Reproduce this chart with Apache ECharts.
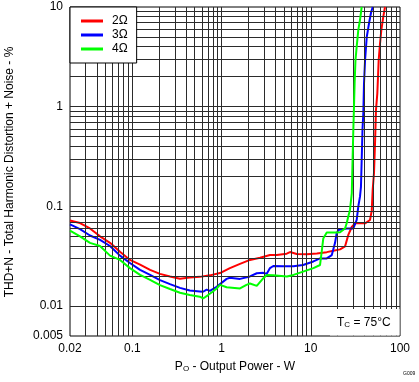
<!DOCTYPE html>
<html><head><meta charset="utf-8">
<script src="https://cdn.jsdelivr.net/npm/echarts@6/dist/echarts.min.js"></script>
<style>html,body{margin:0;padding:0;background:#fff}#c{width:419px;height:382px}</style>
</head><body><div id="c"></div>
<script>
// ---- data ----
const seriesNames = ['2Ω', '3Ω', '4Ω'];
const p2 = [0.02,0.0227,0.0259,0.0335,0.0434,0.0562,0.0727,0.094,0.122,0.158,0.204,0.264,0.342,0.44,0.57,0.74,0.96,1.24,1.61,2.08,2.7,3.49,4.15,5.37,5.85,6.95,9.0,11.7,15.1,17.9,21.3,24.2,26.4,28.8,31.3,40.6,46.1,48.2,49.4,51.1,52.5,53.8,55.7,57.7,59.7,61.8,65.0,67.9];
const thd2 = [0.072,0.070,0.068,0.060,0.050,0.043,0.035,0.029,0.026,0.023,0.021,0.0198,0.0188,0.0193,0.0196,0.0203,0.0214,0.024,0.0265,0.029,0.0305,0.0325,0.0324,0.0335,0.0348,0.0332,0.033,0.0337,0.0347,0.0358,0.037,0.0396,0.052,0.062,0.0675,0.0675,0.073,0.09,0.146,0.215,0.43,0.93,1.36,2.94,4.3,5.9,8.0,10];
const p3 = [0.02,0.0259,0.0335,0.0434,0.0562,0.0727,0.094,0.122,0.158,0.204,0.264,0.342,0.44,0.57,0.62,0.68,0.74,0.88,1.14,1.24,1.61,2.08,2.48,2.94,3.21,3.49,3.8,4.9,6.4,8.2,10.7,12.7,15.1,17.2,18.7,19.5,20.4,25.3,30.0,32.7,34.1,35.6,36.5,37.2,38.0,38.8,39.5,40.6,42.4,45.0,47.5,49.5];
const thd3 = [0.066,0.059,0.051,0.046,0.040,0.032,0.027,0.023,0.0205,0.0182,0.0166,0.0152,0.0143,0.0140,0.0139,0.0146,0.0142,0.0156,0.0187,0.0192,0.0187,0.0198,0.0213,0.0215,0.0211,0.024,0.0252,0.025,0.025,0.0258,0.028,0.030,0.030,0.0324,0.043,0.0537,0.058,0.060,0.060,0.073,0.10,0.125,0.157,0.29,0.6,0.85,1.72,2.94,5.0,6.9,8.9,10];
const p4 = [0.02,0.0259,0.0335,0.0434,0.0562,0.0727,0.094,0.122,0.158,0.204,0.264,0.342,0.44,0.57,0.62,0.70,0.80,0.88,0.96,1.14,1.61,1.9,2.08,2.48,2.94,3.21,3.8,5.4,6.4,8.2,10.7,12.7,13.3,13.8,15.1,19.5,21.3,24.2,25.3,26.4,27.5,28.8,29.4,30.0,30.5,31.0,31.7,32.7,34.1,35.6,37.2];
const thd4 = [0.057,0.050,0.043,0.040,0.032,0.029,0.024,0.0205,0.0183,0.0162,0.0148,0.0136,0.0129,0.0124,0.0119,0.0128,0.0140,0.0150,0.0163,0.0154,0.0150,0.0163,0.0168,0.0159,0.0190,0.0205,0.0203,0.0198,0.0205,0.0221,0.024,0.0258,0.036,0.0475,0.0545,0.0545,0.055,0.060,0.068,0.080,0.092,0.135,0.29,0.60,1.0,1.72,2.94,4.0,5.9,7.4,10];
const xTicks = [0.02, 0.1, 1, 10, 100];
const xTickLabels = ['0.02', '0.1', '1', '10', '100'];
const yTicks = [0.005, 0.01, 0.1, 1, 10];
const yTickLabels = ['0.005', '0.01', '0.1', '1', '10'];
const xGrid = [0.03,0.04,0.05,0.06,0.07,0.08,0.09,0.1,0.2,0.3,0.4,0.5,0.6,0.7,0.8,0.9,1,2,3,4,5,6,7,8,9,10,20,30,40,50,60,70,80,90];
const yGrid = [0.006,0.007,0.008,0.009,0.01,0.02,0.03,0.04,0.05,0.06,0.07,0.08,0.09,0.1,0.2,0.3,0.4,0.5,0.6,0.7,0.8,0.9,1,2,3,4,5,6,7,8,9];

const colors = ['#ff0000', '#0000ff', '#00ff00'];
const FONT = "'Liberation Sans', Arial, sans-serif";

function zip(a, b) { return a.map((v, i) => [v, b[i]]); }
function fmt(ticks, labels) {
  return function (v) {
    for (let i = 0; i < ticks.length; i++) {
      if (Math.abs(Math.log10(v) - Math.log10(ticks[i])) < 0.01) return labels[i];
    }
    return '';
  };
}

const chart = echarts.init(document.getElementById('c'), null, { renderer: 'canvas' });
const gridLines = xGrid.map(v => ({ xAxis: v })).concat(yGrid.map(v => ({ yAxis: v })));

chart.setOption({
  animation: false,
  backgroundColor: '#fff',
  textStyle: { fontFamily: FONT },
  grid: { left: 70, right: 19, top: 7, bottom: 46, show: true, borderColor: '#000', borderWidth: 1, backgroundColor: 'transparent' },
  xAxis: {
    type: 'log', min: 0.02, max: 100, logBase: 10,
    axisLine: { show: false }, axisTick: { show: false }, splitLine: { show: false },
    axisLabel: { color: '#000', fontSize: 12, fontFamily: FONT, margin: 7, formatter: fmt(xTicks, xTickLabels), showMinLabel: true, showMaxLabel: true }
  },
  yAxis: {
    type: 'log', min: 0.005, max: 10, logBase: 10,
    axisLine: { show: false }, axisTick: { show: false }, splitLine: { show: false },
    axisLabel: { color: '#000', fontSize: 12, fontFamily: FONT, margin: 7, formatter: fmt(yTicks, yTickLabels), showMinLabel: true, showMaxLabel: true }
  },
  legend: {
    data: seriesNames, orient: 'vertical', left: 70, top: 7,
    padding: [8, 9, 8, 11], itemGap: 2, itemWidth: 22, itemHeight: 3, icon: 'rect',
    backgroundColor: '#fff', borderColor: '#000', borderWidth: 1,
    textStyle: { fontSize: 12, color: '#000', fontFamily: FONT, padding: [0, 0, 0, 4] },
    z: 10
  },
  series: [
    {
      name: 'grid', type: 'line', data: [], z: 1, silent: true,
      markLine: { silent: true, symbol: ['none', 'none'], label: { show: false },
        lineStyle: { color: '#2b2b2b', width: 1, type: 'solid' }, data: gridLines, animation: false }
    },
    { name: seriesNames[0], type: 'line', data: zip(p2, thd2), showSymbol: false, symbol: 'none', z: 3, lineStyle: { color: colors[0], width: 2 }, itemStyle: { color: colors[0] } },
    { name: seriesNames[1], type: 'line', data: zip(p3, thd3), showSymbol: false, symbol: 'none', z: 4, lineStyle: { color: colors[1], width: 2 }, itemStyle: { color: colors[1] } },
    { name: seriesNames[2], type: 'line', data: zip(p4, thd4), showSymbol: false, symbol: 'none', z: 5, lineStyle: { color: colors[2], width: 2 }, itemStyle: { color: colors[2] } }
  ],
  graphic: [
    { type: 'rect', shape: { x: 330, y: 309, width: 69.5, height: 26.5 }, style: { fill: '#fff' }, z: 20 },
    { type: 'text', x: 337, y: 323, z: 21, style: { text: 'T{s|C} = 75°C', fontSize: 12, fontFamily: FONT, fill: '#000', textVerticalAlign: 'middle',
        rich: { s: { fontSize: 8, fontFamily: FONT, fill: '#000', verticalAlign: 'bottom', lineHeight: 8, padding: [6, 0, 0, 0] } } } },
    { type: 'text', x: 235, y: 367, z: 21, style: { text: 'P{s|O} - Output Power - W', fontSize: 12, fontFamily: FONT, fill: '#000', textAlign: 'center', textVerticalAlign: 'middle',
        rich: { s: { fontSize: 8, fontFamily: FONT, fill: '#000', verticalAlign: 'bottom', lineHeight: 8, padding: [6, 0, 0, 0] } } } },
    { type: 'text', x: 10, y: 172, rotation: Math.PI / 2, z: 21, style: { text: 'THD+N - Total Harmonic Distortion + Noise - %', fontSize: 12, fontFamily: FONT, fill: '#000', textAlign: 'center', textVerticalAlign: 'middle' } },
    { type: 'text', x: 403, y: 374, z: 21, style: { text: 'G009', fontSize: 5, fontFamily: FONT, fill: '#000', textVerticalAlign: 'middle' } }
  ]
});
</script>
</body></html>
